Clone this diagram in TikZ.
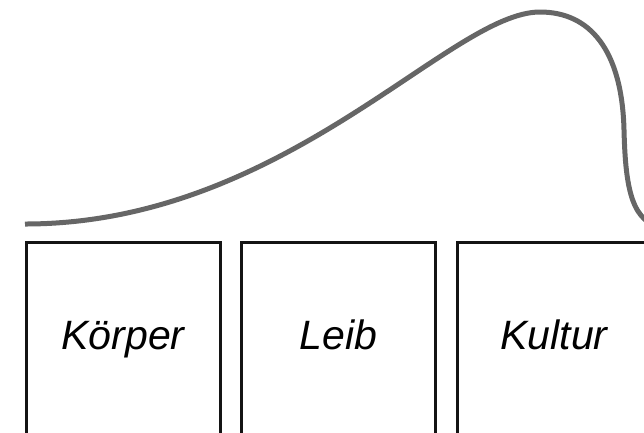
\documentclass[tikz,border=0pt]{standalone}
\usepackage{fontspec}
\setmainfont{Liberation Sans}
\usetikzlibrary{positioning}
\definecolor{boxblack}{HTML}{141414}
\definecolor{curvegray}{HTML}{666666}

\begin{document}
\begin{tikzpicture}[
    x=1pt, y=-1pt,
    node distance=21.5pt,
    blk/.style={draw=boxblack, line width=3pt, outer sep=0pt,
      minimum width=194pt, minimum height=192pt,
      text height=29pt, text depth=7pt,
      font=\fontsize{41}{49}\selectfont\itshape},
    curve/.style={curvegray, line width=5pt}
  ]
  \useasboundingbox (0,0) rectangle (644,432);
  \clip (0,0) rectangle (644,432);

  % Boxes
  \node[blk] (koerper) at (123,338) {Körper};
  \node[blk, right=of koerper] (leib) {Leib};
  \node[blk, right=of leib] (kultur) {Kultur};

  % Curve above the boxes
  \draw[curve] (25,224) .. controls (285,224) and (450,12) .. (540,12)
    .. controls (590,12) and (622,50) .. (624,130)
    .. controls (625.5,190) and (632,224) .. (665,228);
\end{tikzpicture}
\end{document}
